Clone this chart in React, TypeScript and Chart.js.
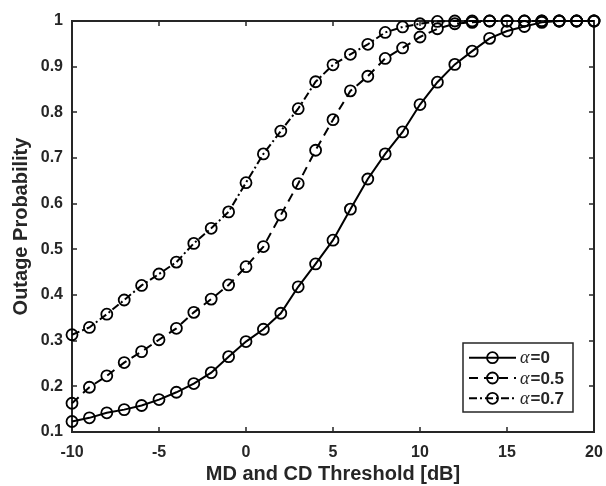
import React, { useEffect, useRef } from 'react';
import { Chart, registerables } from 'chart.js';

Chart.register(...registerables);

// ---- data ----
const thresholdsDb = [-10, -9, -8, -7, -6, -5, -4, -3, -2, -1, 0, 1, 2, 3, 4, 5, 6, 7, 8, 9, 10, 11, 12, 13, 14, 15, 16, 17, 18, 19, 20];
const outageAlpha0 = [0.123, 0.131, 0.142, 0.149, 0.158, 0.171, 0.187, 0.206, 0.230, 0.265, 0.298, 0.325, 0.360, 0.418, 0.468, 0.520, 0.588, 0.654, 0.709, 0.757, 0.817, 0.866, 0.905, 0.934, 0.962, 0.978, 0.988, 0.997, 1, 1, 1];
const outageAlpha05 = [0.163, 0.198, 0.223, 0.252, 0.276, 0.302, 0.327, 0.362, 0.391, 0.422, 0.462, 0.506, 0.575, 0.644, 0.717, 0.784, 0.847, 0.879, 0.918, 0.941, 0.965, 0.983, 0.994, 0.997, 1, 1, 1, 1, 1, 1, 1];
const outageAlpha07 = [0.313, 0.329, 0.358, 0.389, 0.421, 0.446, 0.472, 0.513, 0.546, 0.582, 0.646, 0.709, 0.759, 0.808, 0.867, 0.904, 0.927, 0.949, 0.975, 0.987, 0.994, 0.999, 1, 1, 1, 1, 1, 1, 1, 1, 1];
const seriesLabels = ['α=0', 'α=0.5', 'α=0.7'];
const xTickStep = 5;
const yTickStep = 0.1;
const xTitle = 'MD and CD Threshold [dB]';
const yTitle = 'Outage Probability';

const AXIS = '#262626';
const SANS = '"Liberation Sans", Arial, sans-serif';
const TICK_LEN = 5;

const toPoints = (ys: number[]) => thresholdsDb.map((x, i) => ({ x, y: ys[i] }));

const boxPlugin = {
  id: 'matlabBox',
  beforeDatasetsDraw(chart: any) {
    const { ctx, chartArea: a, scales } = chart;
    ctx.save();
    ctx.strokeStyle = AXIS;
    ctx.lineWidth = 1.5;
    ctx.beginPath();
    scales.x.ticks.forEach((t: any) => {
      const px = Math.round(scales.x.getPixelForValue(t.value));
      ctx.moveTo(px, a.bottom);
      ctx.lineTo(px, a.bottom - TICK_LEN);
      ctx.moveTo(px, a.top);
      ctx.lineTo(px, a.top + TICK_LEN);
    });
    scales.y.ticks.forEach((t: any) => {
      const py = Math.round(scales.y.getPixelForValue(t.value));
      ctx.moveTo(a.left, py);
      ctx.lineTo(a.left + TICK_LEN, py);
      ctx.moveTo(a.right, py);
      ctx.lineTo(a.right - TICK_LEN, py);
    });
    ctx.stroke();
    ctx.lineWidth = 2;
    ctx.strokeRect(a.left, a.top, a.right - a.left, a.bottom - a.top);
    ctx.restore();
  },
};

const legendPlugin = {
  id: 'matlabLegend',
  afterDatasetsDraw(chart: any) {
    const { ctx, chartArea: a } = chart;
    const w = 110;
    const h = 69;
    const x0 = a.right - 21 - w;
    const y0 = a.bottom - 20 - h;
    ctx.save();
    ctx.fillStyle = '#ffffff';
    ctx.fillRect(x0, y0, w, h);
    ctx.strokeStyle = AXIS;
    ctx.lineWidth = 1.5;
    ctx.strokeRect(x0, y0, w, h);
    chart.data.datasets.forEach((ds: any, i: number) => {
      const cy = y0 + 14.7 + i * 20.3;
      ctx.strokeStyle = ds.borderColor;
      ctx.lineWidth = ds.borderWidth;
      ctx.setLineDash(ds.borderDash || []);
      ctx.beginPath();
      ctx.moveTo(x0 + 6, cy);
      ctx.lineTo(x0 + 53, cy);
      ctx.stroke();
      ctx.setLineDash([]);
      ctx.lineWidth = ds.pointBorderWidth;
      ctx.strokeStyle = ds.pointBorderColor;
      ctx.beginPath();
      ctx.arc(x0 + 29.5, cy, ds.pointRadius, 0, Math.PI * 2);
      ctx.stroke();
      const label: string = ds.label;
      const greek = label.slice(0, 1);
      const rest = label.slice(1);
      ctx.fillStyle = AXIS;
      ctx.textBaseline = 'middle';
      ctx.textAlign = 'left';
      ctx.font = 'italic 18px "Liberation Serif", serif';
      ctx.fillText(greek, x0 + 57, cy + 1);
      const gw = ctx.measureText(greek).width;
      ctx.font = 'bold 17px ' + SANS;
      ctx.fillText(rest, x0 + 57 + gw + 1, cy + 1);
    });
    ctx.restore();
  },
};

export default function App() {
  const ref = useRef<HTMLCanvasElement>(null);
  useEffect(() => {
    document.body.style.margin = '0';
    const canvas = ref.current;
    if (!canvas) return;
    const seriesValues = [outageAlpha0, outageAlpha05, outageAlpha07];
    const dashes = [[], [9, 6], [8, 3, 2, 3]];
    const chart = new Chart(canvas, {
      type: 'line',
      data: {
        datasets: seriesValues.map((vals, i) => ({
          label: seriesLabels[i],
          data: toPoints(vals),
          borderColor: '#000000',
          borderWidth: 2,
          borderDash: dashes[i],
          pointRadius: 5.5,
          pointBorderWidth: 1.8,
          pointBorderColor: '#000000',
          pointBackgroundColor: 'rgba(0,0,0,0)',
          pointStyle: 'circle',
          tension: 0,
          fill: false,
          clip: false as any,
        })),
      },
      options: {
        animation: false,
        responsive: false,
        events: [],
        layout: { padding: { top: 21, right: 12, left: 0, bottom: 0 } },
        plugins: {
          legend: { display: false },
          tooltip: { enabled: false },
        },
        scales: {
          x: {
            type: 'linear',
            min: -10,
            max: 20,
            ticks: {
              stepSize: xTickStep,
              padding: 11,
              color: AXIS,
              font: { family: SANS, size: 16, weight: 'bold' },
              maxRotation: 0,
              autoSkip: false,
            },
            grid: { display: false, drawTicks: false },
            border: { display: false },
            title: {
              display: true,
              text: xTitle,
              color: AXIS,
              font: { family: SANS, size: 20, weight: 'bold', lineHeight: 1.2 },
              padding: { top: 0, bottom: 0 },
            },
            afterFit(s: any) {
              s.height = 54;
              s.paddingLeft = 0;
              s.paddingRight = 0;
            },
          },
          y: {
            type: 'linear',
            min: 0.1,
            max: 1,
            ticks: {
              stepSize: yTickStep,
              padding: 9,
              color: AXIS,
              font: { family: SANS, size: 16, weight: 'bold' },
              callback: (v: any) => String(Math.round(Number(v) * 10) / 10),
            },
            grid: { display: false, drawTicks: false },
            border: { display: false },
            title: {
              display: true,
              text: yTitle,
              color: AXIS,
              font: { family: SANS, size: 20, weight: 'bold', lineHeight: 1.2 },
              padding: { top: 9, bottom: 0 },
            },
            afterFit(s: any) {
              s.width = 72;
              s.paddingTop = 0;
              s.paddingBottom = 0;
            },
          },
        },
      },
      plugins: [boxPlugin, legendPlugin],
    } as any);
    return () => chart.destroy();
  }, []);
  return (
    <canvas ref={ref} width={606} height={486} style={{ display: 'block', width: 606, height: 486 }} />
  );
}
